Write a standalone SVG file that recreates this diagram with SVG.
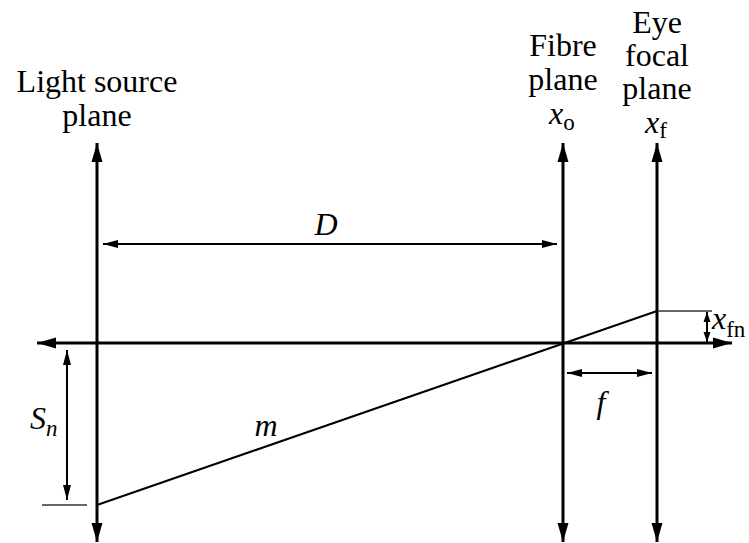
<svg xmlns="http://www.w3.org/2000/svg" width="749" height="543" viewBox="0 0 749 543">
<style>
.c{text-anchor:middle}
.i{font-style:italic}
.sub{font-size:23px}
.main{stroke:#000;stroke-width:3;fill:none}
.thin{stroke:#000;stroke-width:2;fill:none}
.tick{stroke:#333;stroke-width:1.5;fill:none}
</style>
<defs>
<marker id="bigE" markerUnits="userSpaceOnUse" markerWidth="20" markerHeight="12" refX="19" refY="6" orient="auto"><path d="M0,0.5 L19,6 L0,11.5 Z" fill="#000"/></marker>
<marker id="bigS" markerUnits="userSpaceOnUse" markerWidth="20" markerHeight="12" refX="0" refY="6" orient="auto"><path d="M19,0.5 L0,6 L19,11.5 Z" fill="#000"/></marker>
<marker id="medE" markerUnits="userSpaceOnUse" markerWidth="16" markerHeight="9" refX="15" refY="4.5" orient="auto"><path d="M0,0.5 L15,4.5 L0,8.5 Z" fill="#000"/></marker>
<marker id="medS" markerUnits="userSpaceOnUse" markerWidth="16" markerHeight="9" refX="0" refY="4.5" orient="auto"><path d="M15,0.5 L0,4.5 L15,8.5 Z" fill="#000"/></marker>
<marker id="smE" markerUnits="userSpaceOnUse" markerWidth="11" markerHeight="8" refX="10" refY="4" orient="auto"><path d="M0,0.5 L10,4 L0,7.5 Z" fill="#000"/></marker>
<marker id="smS" markerUnits="userSpaceOnUse" markerWidth="11" markerHeight="8" refX="0" refY="4" orient="auto"><path d="M10,0.5 L0,4 L10,7.5 Z" fill="#000"/></marker>
</defs>
<g id="connectors">
<line class="main" x1="732" y1="343" x2="37" y2="343" marker-start="url(#bigS)" marker-end="url(#bigE)"/>
<line class="main" x1="97" y1="143" x2="97" y2="542" marker-start="url(#bigS)" marker-end="url(#bigE)"/>
<line class="main" x1="563" y1="143" x2="563" y2="542" marker-start="url(#bigS)" marker-end="url(#bigE)"/>
<line class="main" x1="657" y1="143" x2="657" y2="542" marker-start="url(#bigS)" marker-end="url(#bigE)"/>
<line class="thin" x1="103" y1="244" x2="557" y2="244" marker-start="url(#medS)" marker-end="url(#medE)"/>
<line class="thin" x1="97" y1="505" x2="657" y2="311"/>
<line class="tick" x1="42" y1="505" x2="87" y2="505"/>
<line class="tick" x1="658" y1="311" x2="712" y2="311"/>
<line class="thin" x1="67" y1="350" x2="67" y2="500" marker-start="url(#medS)" marker-end="url(#medE)"/>
<line class="thin" x1="567" y1="373" x2="652" y2="373" marker-start="url(#medS)" marker-end="url(#medE)"/>
<line class="thin" x1="707" y1="312" x2="707" y2="342" marker-start="url(#smS)" marker-end="url(#smE)"/>
</g>
<g font-family="'Liberation Serif', 'Times New Roman', 'DejaVu Serif', serif" font-size="32" fill="#000">
<g id="light-source-plane">
<text class="c" x="97" y="92">Light source</text>
<text class="c" x="97" y="126">plane</text>
</g>
<g id="fibre-plane">
<text class="c" x="563" y="56">Fibre</text>
<text class="c" x="563" y="90">plane</text>
<text x="549" y="124"><tspan class="i">x</tspan><tspan class="sub" dy="6">o</tspan></text>
</g>
<g id="eye-focal-plane">
<text class="c" x="657" y="33">Eye</text>
<text class="c" x="657" y="66">focal</text>
<text class="c" x="657" y="99">plane</text>
<text x="645" y="133"><tspan class="i">x</tspan><tspan class="sub" dy="5">f</tspan></text>
</g>
<g id="labels">
<text class="c i" x="326" y="235">D</text>
<text class="c i" x="266" y="436">m</text>
<text class="c i" x="601" y="413">f</text>
<text x="30" y="429"><tspan class="i">S</tspan><tspan class="sub i" dy="7">n</tspan></text>
<text x="712" y="329"><tspan class="i">x</tspan><tspan class="sub" dy="8">fn</tspan></text>
</g>
</g>
</svg>
